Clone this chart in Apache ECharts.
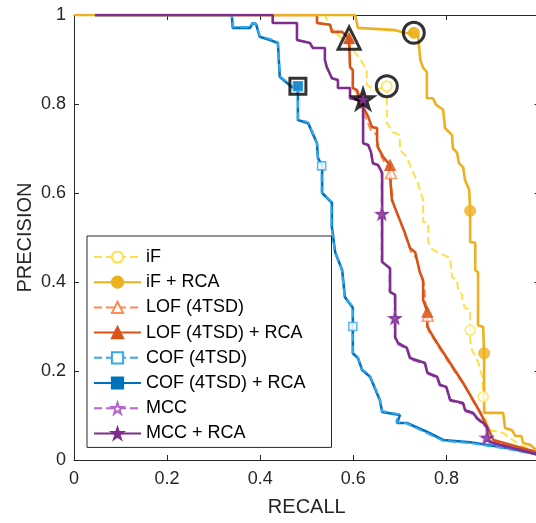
<!DOCTYPE html>
<html><head><meta charset="utf-8">
<script src="https://cdn.jsdelivr.net/npm/echarts@6/dist/echarts.min.js"></script>
<style>html,body{margin:0;padding:0;background:#fff}#c{width:536px;height:523px}</style>
</head><body><div id="c"></div>
<script>
// ---- data: [recall, precision] ----
const iF = [[0.045,1],[0.539,1],[0.543,0.989],[0.554,0.971],[0.571,0.951],[0.586,0.937],[0.604,0.915],[0.614,0.903],[0.629,0.876],[0.629,0.843],[0.647,0.831],[0.672,0.840],[0.672,0.757],[0.685,0.737],[0.700,0.730],[0.700,0.697],[0.715,0.681],[0.726,0.652],[0.739,0.622],[0.743,0.607],[0.750,0.584],[0.750,0.535],[0.761,0.533],[0.761,0.490],[0.771,0.472],[0.793,0.461],[0.808,0.454],[0.812,0.411],[0.823,0.404],[0.825,0.382],[0.834,0.371],[0.834,0.360],[0.840,0.342],[0.851,0.337],[0.851,0.270],[0.855,0.247],[0.868,0.220],[0.877,0.187],[0.879,0.142],[0.883,0.094],[0.894,0.067],[0.922,0.061],[0.933,0.052],[0.958,0.034],[1,0.015]];
const iF_RCA = [[0,1],[0.604,1],[0.610,0.971],[0.690,0.966],[0.711,0.960],[0.739,0.957],[0.744,0.899],[0.750,0.881],[0.758,0.872],[0.758,0.813],[0.771,0.813],[0.778,0.798],[0.793,0.787],[0.797,0.746],[0.812,0.730],[0.814,0.701],[0.823,0.690],[0.827,0.667],[0.836,0.658],[0.840,0.629],[0.849,0.607],[0.851,0.560],[0.851,0.490],[0.862,0.488],[0.862,0.427],[0.868,0.422],[0.868,0.303],[0.879,0.299],[0.881,0.240],[0.881,0.106],[0.922,0.106],[0.926,0.072],[0.941,0.067],[0.948,0.054],[0.961,0.054],[0.965,0.038],[0.980,0.034],[1,0.017]];
const LOF = [[0.045,1],[0.522,1],[0.522,0.982],[0.550,0.978],[0.554,0.962],[0.576,0.962],[0.591,0.948],[0.593,0.944],[0.593,0.883],[0.599,0.876],[0.599,0.836],[0.608,0.826],[0.615,0.795],[0.628,0.766],[0.638,0.740],[0.651,0.730],[0.651,0.705],[0.662,0.678],[0.672,0.660],[0.681,0.645],[0.681,0.620],[0.686,0.578],[0.696,0.548],[0.704,0.528],[0.713,0.500],[0.725,0.465],[0.735,0.455],[0.745,0.412],[0.752,0.395],[0.755,0.355],[0.760,0.324],[0.762,0.290],[0.785,0.252],[0.812,0.208],[0.840,0.165],[0.858,0.131],[0.875,0.101],[0.890,0.068],[0.903,0.041],[1,0.015]];
const LOF_RCA = [[0.045,1],[0.522,1],[0.522,0.982],[0.550,0.978],[0.554,0.962],[0.576,0.962],[0.591,0.948],[0.593,0.944],[0.593,0.883],[0.599,0.876],[0.599,0.836],[0.608,0.831],[0.619,0.798],[0.632,0.771],[0.640,0.748],[0.651,0.746],[0.651,0.719],[0.653,0.703],[0.664,0.681],[0.679,0.663],[0.679,0.636],[0.683,0.584],[0.694,0.555],[0.700,0.539],[0.711,0.510],[0.722,0.476],[0.733,0.467],[0.743,0.422],[0.750,0.404],[0.750,0.360],[0.759,0.333],[0.759,0.299],[0.780,0.263],[0.808,0.218],[0.836,0.173],[0.855,0.139],[0.872,0.108],[0.888,0.074],[0.901,0.045],[1,0.016]];
const COF = [[0.045,1],[0.339,1],[0.341,0.973],[0.378,0.973],[0.384,0.982],[0.391,0.980],[0.399,0.953],[0.421,0.946],[0.438,0.939],[0.442,0.863],[0.468,0.840],[0.481,0.840],[0.481,0.766],[0.503,0.759],[0.522,0.714],[0.524,0.681],[0.532,0.661],[0.532,0.602],[0.553,0.580],[0.553,0.526],[0.560,0.469],[0.575,0.429],[0.581,0.368],[0.599,0.344],[0.599,0.242],[0.610,0.231],[0.619,0.204],[0.636,0.189],[0.657,0.137],[0.662,0.110],[0.698,0.103],[0.692,0.085],[0.713,0.083],[0.757,0.061],[0.793,0.043],[0.851,0.038],[0.931,0.025],[1,0.011]];
const COF_RCA = [[0.045,1],[0.339,1],[0.341,0.971],[0.378,0.971],[0.384,0.982],[0.391,0.980],[0.399,0.951],[0.421,0.944],[0.438,0.937],[0.442,0.861],[0.468,0.838],[0.481,0.840],[0.481,0.764],[0.503,0.757],[0.522,0.712],[0.524,0.679],[0.533,0.661],[0.533,0.600],[0.554,0.578],[0.554,0.524],[0.561,0.467],[0.576,0.427],[0.582,0.366],[0.599,0.342],[0.599,0.240],[0.610,0.229],[0.619,0.202],[0.636,0.187],[0.657,0.135],[0.662,0.108],[0.700,0.101],[0.694,0.083],[0.715,0.083],[0.759,0.063],[0.793,0.045],[0.851,0.040],[0.931,0.027],[1,0.012]];
const MCC = [[0.045,1],[0.427,1],[0.427,0.982],[0.479,0.982],[0.479,0.944],[0.507,0.937],[0.513,0.926],[0.539,0.926],[0.539,0.899],[0.543,0.883],[0.554,0.858],[0.567,0.854],[0.567,0.836],[0.593,0.836],[0.593,0.813],[0.610,0.809],[0.621,0.811],[0.621,0.712],[0.632,0.708],[0.638,0.692],[0.642,0.667],[0.653,0.663],[0.661,0.645],[0.661,0.445],[0.678,0.431],[0.678,0.378],[0.689,0.371],[0.689,0.276],[0.696,0.260],[0.715,0.250],[0.722,0.227],[0.754,0.216],[0.759,0.194],[0.780,0.185],[0.786,0.167],[0.800,0.162],[0.808,0.133],[0.836,0.126],[0.840,0.110],[0.857,0.104],[0.866,0.092],[0.879,0.081],[0.886,0.072],[0.886,0.045],[0.901,0.036],[1,0.011]];
const MCC_RCA = [[0.045,1],[0.427,1],[0.427,0.982],[0.479,0.982],[0.479,0.944],[0.507,0.937],[0.513,0.926],[0.539,0.926],[0.539,0.899],[0.543,0.883],[0.554,0.858],[0.567,0.854],[0.567,0.836],[0.593,0.836],[0.593,0.813],[0.610,0.809],[0.621,0.811],[0.621,0.712],[0.632,0.708],[0.638,0.692],[0.642,0.667],[0.653,0.663],[0.662,0.645],[0.662,0.445],[0.679,0.431],[0.679,0.378],[0.690,0.371],[0.690,0.276],[0.696,0.263],[0.715,0.252],[0.722,0.229],[0.754,0.218],[0.759,0.196],[0.780,0.187],[0.786,0.169],[0.800,0.164],[0.808,0.135],[0.836,0.128],[0.840,0.112],[0.857,0.106],[0.866,0.094],[0.879,0.083],[0.888,0.074],[0.888,0.045],[0.901,0.038],[1,0.011]];

// markers along curves
const iF_marks = [[0.672,0.840],[0.851,0.292],[0.879,0.142]];
const iF_RCA_marks = [[0.730,0.960],[0.851,0.560],[0.881,0.240]];
const LOF_marks = [[0.681,0.645],[0.760,0.324]];
const LOF_RCA_marks = [[0.591,0.948],[0.679,0.663],[0.759,0.333]];
const COF_marks = [[0.481,0.840],[0.532,0.661],[0.599,0.300]];
const COF_RCA_marks = [[0.481,0.840]];
const MCC_marks = [[0.661,0.553],[0.689,0.319],[0.886,0.050]];
const MCC_RCA_marks = [[0.621,0.811],[0.662,0.553],[0.690,0.319],[0.888,0.050]];
// highlighted best points (black outlines)
const best_iF = [[0.672,0.840]];
const best_iF_RCA = [[0.730,0.960]];
const best_LOF_RCA = [[0.591,0.948]];
const best_COF_RCA = [[0.481,0.840]];
const best_MCC_RCA = [[0.621,0.811]];

const xTicks = ['0','0.2','0.4','0.6','0.8',''];
const yTicks = ['0','0.2','0.4','0.6','0.8','1'];

const STAR = 'path://M100 0 L122.45 69.1 L195.1 69.1 L136.3 111.8 L158.8 180.9 L100 138.2 L41.2 180.9 L63.7 111.8 L4.9 69.1 L77.55 69.1 Z';
const FONT = 'Liberation Sans';
const AX = '#262626';

const defs = [
  {name:'iF', data:iF, marks:iF_marks, color:'#FFE04A', dashed:true, symbol:'circle', size:10, z:3},
  {name:'iF + RCA', data:iF_RCA, marks:iF_RCA_marks, color:'#EDB120', dashed:false, symbol:'circle', size:11, z:9},
  {name:'LOF (4TSD)', data:LOF, marks:LOF_marks, color:'#FF8A55', dashed:true, symbol:'triangle', size:11, z:4},
  {name:'LOF (4TSD) + RCA', data:LOF_RCA, marks:LOF_RCA_marks, color:'#D95319', dashed:false, symbol:'triangle', size:11, z:5},
  {name:'COF (4TSD)', data:COF, marks:COF_marks, color:'#36A8EE', dashed:true, symbol:'rect', size:8, z:6},
  {name:'COF (4TSD) + RCA', data:COF_RCA, marks:COF_RCA_marks, color:'#0072BD', dashed:false, symbol:'rect', size:9, z:5},
  {name:'MCC', data:MCC, marks:MCC_marks, color:'#B565D0', dashed:true, symbol:STAR, size:12, z:7},
  {name:'MCC + RCA', data:MCC_RCA, marks:MCC_RCA_marks, color:'#7E2F8E', dashed:false, symbol:STAR, size:12, z:10}
];

const series = [];
defs.forEach(d => {
  const itemStyle = d.dashed ? {color:'#fff', borderColor:d.color, borderWidth:1.6} : {color:d.color, borderColor:d.color, borderWidth:1};
  series.push({
    name:d.name, type:'line', data:d.data, showSymbol:false, symbol:d.symbol, symbolKeepAspect:true,
    lineStyle:{color:d.color, width:d.dashed?2:2.6, type:d.dashed?[8,4]:'solid'},
    itemStyle:itemStyle, z:d.z, animation:false, silent:true
  });
  series.push({
    name:d.name+'_m', type:'scatter', data:d.marks, symbol:d.symbol, symbolSize:d.size, symbolKeepAspect:true,
    itemStyle:itemStyle, z:d.z+10, animation:false, silent:true
  });
});
const bestStyle = {color:'rgba(0,0,0,0)', borderColor:'#000', borderWidth:3};
[[best_iF,'circle',21],[best_iF_RCA,'circle',21],[best_LOF_RCA,'triangle',22],[best_COF_RCA,'rect',16],[best_MCC_RCA,STAR,20]].forEach((b,i)=>{
  series.push({name:'best'+i, type:'scatter', data:b[0], symbol:b[1], symbolSize:b[2], symbolKeepAspect:true, itemStyle:bestStyle, z:30, animation:false, silent:true});
});
[[best_iF,'circle',10,{color:'#fff',borderColor:'#FFE04A',borderWidth:1.6}],
 [best_iF_RCA,'circle',11,{color:'#EDB120'}],
 [best_LOF_RCA,'triangle',11,{color:'#D95319'}],
 [best_COF_RCA,'rect',9,{color:'#0072BD',borderColor:'#36A8EE',borderWidth:1.5}],
 [best_MCC_RCA,STAR,12,{color:'#7E2F8E'}]].forEach((b,i)=>{
  series.push({name:'bestc'+i, type:'scatter', data:b[0], symbol:b[1], symbolSize:b[2], symbolKeepAspect:true, itemStyle:b[3], z:31, animation:false, silent:true});
});

const fmtX = v => { const i = Math.round(v*5); return xTicks[i]; };
const fmtY = v => { const i = Math.round(v*5); return yTicks[i]; };

const axisCommon = {
  min:0, max:1, interval:0.2,
  axisLine:{show:true, onZero:false, lineStyle:{color:AX, width:1}},
  axisTick:{show:true, inside:true, length:5, lineStyle:{color:AX}},
  splitLine:{show:false}
};

const chart = echarts.init(document.getElementById('c'), null, {renderer:'canvas'});
chart.setOption({
  animation:false,
  backgroundColor:'#fff',
  grid:{left:74, top:15, width:465.5, height:445, containLabel:false, outerBoundsMode:'none'},
  xAxis:[
    Object.assign({type:'value', position:'bottom', name:'RECALL', nameLocation:'middle', nameGap:37, nameMoveOverlap:false,
      nameTextStyle:{fontFamily:FONT, fontSize:20, color:AX},
      axisLabel:{fontFamily:FONT, fontSize:18, color:AX, margin:10, formatter:fmtX}}, axisCommon),
    Object.assign({type:'value', position:'top', axisLabel:{show:false}}, axisCommon)
  ],
  yAxis:[
    Object.assign({type:'value', position:'left', name:'PRECISION', nameLocation:'middle', nameGap:39, nameMoveOverlap:false,
      nameTextStyle:{fontFamily:FONT, fontSize:20, color:AX},
      axisLabel:{fontFamily:FONT, fontSize:18, color:AX, margin:8, formatter:fmtY}}, axisCommon),
    Object.assign({type:'value', position:'right', axisLabel:{show:false}}, axisCommon)
  ],
  legend:{
    data:defs.map(d=>d.name), orient:'vertical', left:87, top:236,
    itemWidth:47, itemHeight:14, itemGap:7.2,
    padding:[12,26,5,6], backgroundColor:'#fff', borderColor:AX, borderWidth:1, borderRadius:0,
    textStyle:{fontFamily:FONT, fontSize:18, color:'#000', lineHeight:18},
    selectedMode:false, z:50
  },
  series:series
});
</script></body></html>
